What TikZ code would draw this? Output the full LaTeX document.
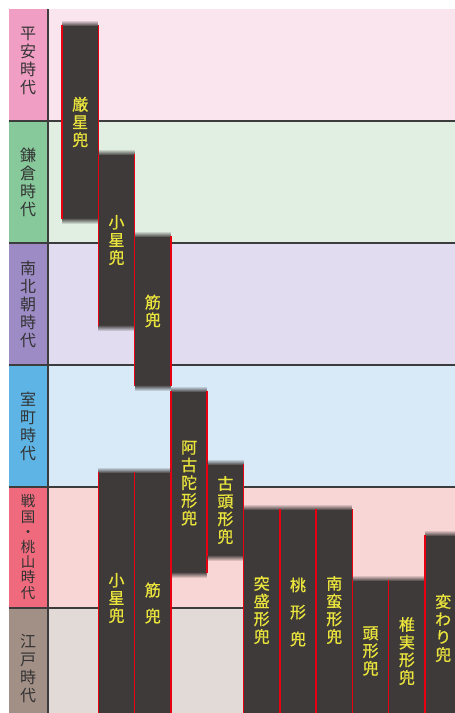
\documentclass[tikz,border=0pt]{standalone}
\usepackage{fontspec}
\newfontfamily\jp{Noto Sans CJK JP}
\newfontfamily\jpb[FakeBold=0.8]{Noto Sans CJK JP}
\usetikzlibrary{fadings}
\definecolor{heianL}{HTML}{F09EC4}
\definecolor{heianC}{HTML}{FAE4EE}
\definecolor{kamaL}{HTML}{87C99B}
\definecolor{kamaC}{HTML}{E1EFE3}
\definecolor{nanL}{HTML}{9C8BC5}
\definecolor{nanC}{HTML}{E1DCEF}
\definecolor{muroL}{HTML}{5DB4E5}
\definecolor{muroC}{HTML}{D8E9F7}
\definecolor{senL}{HTML}{EE6A7C}
\definecolor{senC}{HTML}{F9D6D6}
\definecolor{edoL}{HTML}{A29087}
\definecolor{edoC}{HTML}{E1DAD6}
\definecolor{barc}{HTML}{3E3A39}
\definecolor{bartxt}{HTML}{EAE43C}
\definecolor{barred}{HTML}{E60012}
\definecolor{gridc}{HTML}{3C3C3C}
\definecolor{lbltxt}{HTML}{333333}
\newcommand\kabutobar[3]{%
  \fill[barc] (#1,#2+3) rectangle (#1+36.3,#3-3);
  \fill[barc, path fading=north] (#1,#2-3) rectangle (#1+36.3,#2+3.2);
  \fill[barc, path fading=south] (#1,#3-3.2) rectangle (#1+36.3,#3+3);
  \draw[redline] (#1,#2+2) -- (#1,#3-2);
  \draw[redline] (#1+36.3,#2+2) -- (#1+36.3,#3-2);
}
\tikzset{
  bartext/.style={text=bartxt, font=\jpb\fontsize{16}{17.7}\selectfont, align=center, inner sep=0pt},
  lbl/.style={text=lbltxt, font=\jp\fontsize{16}{18}\selectfont, align=center, inner sep=0pt},
  redline/.style={draw=barred, line width=1.5pt},
  gridline/.style={draw=gridc, line width=2pt},
}
\begin{document}
\begin{tikzpicture}[x=1pt,y=-1pt]
\useasboundingbox (0,0) rectangle (455,713);
\clip (0,0) rectangle (455,713);
\fill[white] (0,0) rectangle (455,713);
% period rows
\fill[heianL] (9,9) rectangle (48,121);
\fill[heianC] (48,9) rectangle (455,121);
\fill[kamaL] (9,121) rectangle (48,243);
\fill[kamaC] (48,121) rectangle (455,243);
\fill[nanL] (9,243) rectangle (48,365);
\fill[nanC] (48,243) rectangle (455,365);
\fill[muroL] (9,365) rectangle (48,487);
\fill[muroC] (48,365) rectangle (455,487);
\fill[senL] (9,487) rectangle (48,608);
\fill[senC] (48,487) rectangle (455,608);
\fill[edoL] (9,608) rectangle (48,713);
\fill[edoC] (48,608) rectangle (455,713);
% grid lines
\foreach \yy in {121,243,365,487,608} \draw[gridline] (9,\yy) -- (455,\yy);
\draw[gridline] (48,9) -- (48,713);
% period labels
\node[lbl] (heian) at (28,61) {平\\安\\時\\代};
\node[lbl] (kamakura) at (28,182) {鎌\\倉\\時\\代};
\node[lbl] (nanboku) at (28,304) {南\\北\\朝\\時\\代};
\node[lbl] (muromachi) at (28,426) {室\\町\\時\\代};
\node[lbl, font=\jp\fontsize{14.5}{15.2}\selectfont] (sengoku) at (28,547) {戦\\国\\・\\桃\\山\\時\\代};
\node[lbl] (edo) at (28,669) {江\\戸\\時\\代};
% bars
\kabutobar{62}{23}{221}
\kabutobar{98.3}{152}{328}
\kabutobar{134.6}{234}{388}
\kabutobar{170.9}{389}{575}
\kabutobar{207.2}{462}{558}
\kabutobar{98.3}{470}{730}
\kabutobar{134.6}{470}{730}
\kabutobar{243.5}{507}{730}
\kabutobar{279.8}{507}{730}
\kabutobar{316.1}{507}{730}
\kabutobar{352.4}{578}{730}
\kabutobar{388.7}{578}{730}
\kabutobar{425}{533}{730}
% bar labels
\node[bartext] (t1) at (80.2,122) {厳\\星\\兜};
\node[bartext] (t2) at (116.5,240) {小\\星\\兜};
\node[bartext] (t3) at (152.8,311) {筋\\兜};
\node[bartext] (t4) at (189.1,483) {阿\\古\\陀\\形\\兜};
\node[bartext] (t5) at (225.4,510) {古\\頭\\形\\兜};
\node[bartext] (t6) at (116.5,598) {小\\星\\兜};
\node[bartext, font=\jpb\fontsize{16}{26}\selectfont] (t7) at (152.8,603) {筋\\兜};
\node[bartext] (t8) at (261.7,610) {突\\盛\\形\\兜};
\node[bartext, font=\jpb\fontsize{16}{27}\selectfont] (t9) at (298,612) {桃\\形\\兜};
\node[bartext] (t10) at (334.3,610) {南\\蛮\\形\\兜};
\node[bartext] (t11) at (370.6,651) {頭\\形\\兜};
\node[bartext] (t12) at (406.9,651) {椎\\実\\形\\兜};
\node[bartext] (t13) at (443.2,628) {変\\わ\\り\\兜};
\end{tikzpicture}
\end{document}
